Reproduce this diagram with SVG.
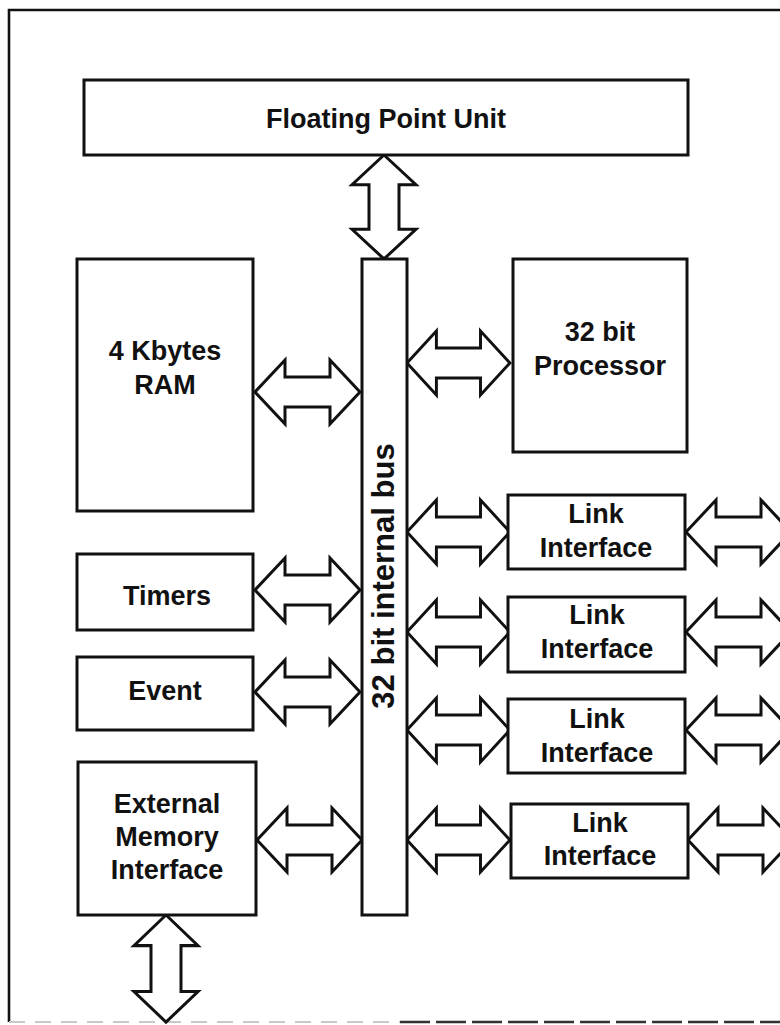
<svg xmlns="http://www.w3.org/2000/svg" width="780" height="1025" viewBox="0 0 780 1025">
  <style>
    .box { fill: #ffffff; stroke: #111111; stroke-width: 3; }
    .lbl { font-family: "Liberation Sans", Arial, sans-serif; font-weight: bold; font-size: 27px; fill: #111111; text-anchor: middle; }
    .bus-lbl { font-size: 31px; }
    .arr { fill: #ffffff; stroke: #111111; stroke-width: 3; stroke-linejoin: miter; }
    .frame { fill: none; stroke: #111111; stroke-width: 2.6; }
  </style>
  <defs>
    <!-- double-headed bus arrow, 105 long, drawn along +x from the origin -->
    <path id="dbl" d="M0,0 L30,-32 L30,-15 L75,-15 L75,-32 L105,0 L75,32 L75,15 L30,15 L30,32 Z"/>
  </defs>

  <rect width="780" height="1025" fill="#ffffff"/>

  <!-- outer border -->
  <g id="border">
    <path class="frame" d="M9,1022 L9,10 L780,10"/>
    <line x1="9" y1="1022" x2="400" y2="1022" stroke="#c8c8c8" stroke-width="2" stroke-dasharray="16,10"/>
    <line x1="400" y1="1022" x2="780" y2="1022" stroke="#333333" stroke-width="2.4" stroke-dasharray="30,6"/>
  </g>

  <!-- connectors -->
  <g id="connectors">
    <!-- FPU to bus -->
    <use href="#dbl" class="arr" transform="translate(384,155) rotate(90) scale(0.99,1)"/>
    <!-- RAM, timers, event, external memory to bus -->
    <use href="#dbl" class="arr" transform="translate(255,392)"/>
    <use href="#dbl" class="arr" transform="translate(255,590)"/>
    <use href="#dbl" class="arr" transform="translate(255,692)"/>
    <use href="#dbl" class="arr" transform="translate(257,840)"/>
    <!-- bus to processor and link interfaces -->
    <use href="#dbl" class="arr" transform="translate(407,363) scale(0.98,1)"/>
    <use href="#dbl" class="arr" transform="translate(407,532) scale(0.98,1)"/>
    <use href="#dbl" class="arr" transform="translate(407,632) scale(0.98,1)"/>
    <use href="#dbl" class="arr" transform="translate(407,730) scale(0.98,1)"/>
    <use href="#dbl" class="arr" transform="translate(407,840) scale(0.98,1)"/>
    <!-- link interfaces to outside -->
    <use href="#dbl" class="arr" transform="translate(686,532)"/>
    <use href="#dbl" class="arr" transform="translate(686,632)"/>
    <use href="#dbl" class="arr" transform="translate(686,730)"/>
    <use href="#dbl" class="arr" transform="translate(688,840)"/>
    <!-- external memory to outside -->
    <use href="#dbl" class="arr" transform="translate(166,915) rotate(90) scale(1.02,1)"/>
  </g>

  <g id="fpu">
    <rect class="box" x="84" y="80" width="604" height="75"/>
    <text class="lbl" x="386" y="128">Floating Point Unit</text>
  </g>

  <g id="bus">
    <rect class="box" x="362" y="259" width="45" height="656"/>
    <text class="lbl bus-lbl" transform="translate(394,576) rotate(-90)">32 bit internal bus</text>
  </g>

  <g id="ram">
    <rect class="box" x="77" y="259" width="176" height="252"/>
    <text class="lbl" x="165" y="360">4 Kbytes</text>
    <text class="lbl" x="165" y="394">RAM</text>
  </g>

  <g id="processor">
    <rect class="box" x="513" y="259" width="174" height="193"/>
    <text class="lbl" x="600" y="341">32 bit</text>
    <text class="lbl" x="600" y="375">Processor</text>
  </g>

  <g id="timers">
    <rect class="box" x="77" y="554" width="176" height="76"/>
    <text class="lbl" x="167" y="605">Timers</text>
  </g>

  <g id="event">
    <rect class="box" x="77" y="657" width="176" height="73"/>
    <text class="lbl" x="165" y="700">Event</text>
  </g>

  <g id="ext-mem">
    <rect class="box" x="78" y="762" width="178" height="153"/>
    <text class="lbl" x="167" y="813">External</text>
    <text class="lbl" x="167" y="846">Memory</text>
    <text class="lbl" x="167" y="879">Interface</text>
  </g>

  <g id="link1">
    <rect class="box" x="508" y="495" width="177" height="74"/>
    <text class="lbl" x="596" y="523">Link</text>
    <text class="lbl" x="596" y="557">Interface</text>
  </g>

  <g id="link2">
    <rect class="box" x="508" y="597" width="177" height="75"/>
    <text class="lbl" x="597" y="624">Link</text>
    <text class="lbl" x="597" y="658">Interface</text>
  </g>

  <g id="link3">
    <rect class="box" x="508" y="699" width="177" height="74"/>
    <text class="lbl" x="597" y="728">Link</text>
    <text class="lbl" x="597" y="762">Interface</text>
  </g>

  <g id="link4">
    <rect class="box" x="511" y="804" width="177" height="74"/>
    <text class="lbl" x="600" y="832">Link</text>
    <text class="lbl" x="600" y="865">Interface</text>
  </g>
</svg>
